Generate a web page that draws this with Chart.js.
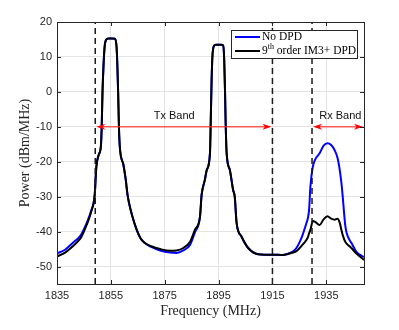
<!DOCTYPE html>
<html><head><meta charset="utf-8">
<script src="https://cdn.jsdelivr.net/npm/chart.js@4"></script>
<style>html,body{margin:0;padding:0;background:#fff;}#wrap{width:399px;height:330px;}</style>
</head><body><div id="wrap"><canvas id="c" width="399" height="330"></canvas></div>
<script>
const freq = [1835,1838,1841,1843,1844,1846,1847.7,1849,1849.6,1850.5,1851.3,1851.6,1851.9,1852.3,1852.7,1853.3,1854,1855.5,1856.5,1857.1,1857.4,1857.7,1858,1858.3,1859.7,1860.5,1861.2,1861.8,1863,1864.6,1866,1867.5,1870,1873.3,1877,1879.4,1881.9,1884.4,1886.2,1888.1,1888.7,1889.9,1890.6,1891.8,1892.1,1892.4,1892.7,1893.3,1894,1896,1896.7,1897.1,1897.4,1897.6,1898,1899.2,1900.4,1901,1901.7,1903.5,1906,1909.7,1912,1915,1918.9,1920.8,1922.6,1923.9,1925.1,1925.9,1927.6,1928.2,1928.6,1929.1,1930,1931,1932.5,1934,1935.4,1936.8,1938.1,1939.2,1940,1940.6,1941.1,1942.1,1943.6,1944.3,1946.1,1949];
const noDpd = [-46.2,-45.2,-43.1,-41.8,-40.8,-37.6,-34.0,-29.5,-21.5,-18,-15.5,-10,0,8,13,15.0,15.3,15.3,15.2,13,8,0,-10,-15.5,-21,-25,-29.5,-32,-35.7,-39.5,-41.9,-43.2,-44.4,-45.4,-46.0,-46.1,-45.4,-43.8,-40.2,-35.7,-29.5,-25.2,-22.4,-17.6,-8,3,10,13.2,13.5,13.5,13.3,9,0,-8,-17.6,-22.4,-28.1,-30,-37.6,-41.4,-44.7,-46.5,-46.6,-46.6,-46.7,-46.3,-45.7,-44.7,-43,-41.6,-37.6,-36,-33.8,-27.1,-21.4,-19.2,-17.6,-15.4,-14.7,-15.2,-16.7,-19,-22.4,-26,-30,-38.6,-42.4,-43.2,-45.7,-47.3];
const withDpd = [-47.1,-46.0,-44.1,-42.6,-41.6,-38.1,-34.3,-29.5,-21.5,-18,-15.5,-10,0,8,13,15.0,15.3,15.3,15.2,13,8,0,-10,-15.5,-21,-25,-29.5,-32,-35.7,-39.5,-41.9,-43.2,-44.2,-45.0,-45.5,-45.4,-44.7,-42.9,-39.5,-35.7,-29.5,-25.2,-22.4,-17.6,-8,3,10,13.2,13.5,13.5,13.3,9,0,-8,-17.6,-22.4,-28.1,-30,-37.6,-41.4,-44.7,-46.5,-46.6,-46.6,-46.7,-46.4,-46.0,-45.6,-44.7,-44.0,-42.4,-41.5,-40.5,-39.5,-37.0,-37.3,-38.1,-36.5,-35.6,-36.3,-36.6,-36.3,-37.5,-39.5,-41,-43.0,-44.2,-44.7,-46.2,-48.1];
const xTicks = [1835,1855,1875,1895,1915,1935];
const yTicks = [20,10,0,-10,-20,-30,-40,-50];
const bandEdges = [1849.2,1915,1929.7];
const seriesNames = ['No DPD','9th order IM3+ DPD'];

const AX = '#262626';
const serif = '"Liberation Serif", "Times New Roman", serif';
const sans = '"Liberation Sans", Arial, sans-serif';

const pts = (ys) => freq.map((f,i)=>({x:f,y:ys[i]}));
const vline = (f) => [{x:f,y:-55},{x:f,y:20}];

const decor = {
  id:'decor',
  afterDatasetsDraw(chart){
    const {ctx, scales:{x,y}} = chart;
    ctx.save();
    const arrow = (f1,f2,v) => {
      const x1=x.getPixelForValue(f1), x2=x.getPixelForValue(f2), py=y.getPixelForValue(v);
      ctx.strokeStyle='rgba(255,40,40,0.75)'; ctx.lineWidth=1.5;
      ctx.beginPath(); ctx.moveTo(x1+4,py); ctx.lineTo(x2-4,py); ctx.stroke();
      ctx.fillStyle='#ff0000';
      const head=(tx,dir)=>{ctx.beginPath();ctx.moveTo(tx,py);ctx.lineTo(tx+dir*9,py-3);ctx.lineTo(tx+dir*6.5,py);ctx.lineTo(tx+dir*9,py+3);ctx.closePath();ctx.fill();};
      head(x1+1,1); head(x2-1,-1);
    };
    arrow(bandEdges[0],bandEdges[1],-10);
    arrow(bandEdges[2],x.max,-10);
    ctx.fillStyle='#111'; ctx.font='11px '+sans; ctx.textAlign='center'; ctx.textBaseline='middle';
    ctx.fillText('Tx Band', x.getPixelForValue(1878.5), y.getPixelForValue(-6.9));
    ctx.fillText('Rx Band', x.getPixelForValue(1940.2), y.getPixelForValue(-6.9));
    ctx.restore();
  },
  afterDraw(chart){
    const {ctx, chartArea:a, scales:{x,y}} = chart;
    ctx.save();
    ctx.strokeStyle=AX; ctx.lineWidth=1;
    ctx.strokeRect(Math.round(a.left)+0.5, Math.round(a.top)+0.5, Math.round(a.right-a.left), Math.round(a.bottom-a.top));
    ctx.beginPath();
    xTicks.forEach(t=>{const px=Math.round(x.getPixelForValue(t))+0.5; ctx.moveTo(px,a.bottom);ctx.lineTo(px,a.bottom-4);ctx.moveTo(px,a.top);ctx.lineTo(px,a.top+4);});
    yTicks.forEach(t=>{const py=Math.round(y.getPixelForValue(t))+0.5; ctx.moveTo(a.left,py);ctx.lineTo(a.left+4,py);ctx.moveTo(a.right,py);ctx.lineTo(a.right-4,py);});
    ctx.stroke();
    const lx=231.5, ly=30.5, lw=126, lh=28;
    ctx.fillStyle='#fff'; ctx.fillRect(lx,ly,lw,lh);
    ctx.strokeStyle=AX; ctx.strokeRect(lx,ly,lw,lh);
    ctx.lineWidth=2;
    ctx.strokeStyle='#0000ff'; ctx.beginPath(); ctx.moveTo(235,37); ctx.lineTo(260,37); ctx.stroke();
    ctx.strokeStyle='#000'; ctx.beginPath(); ctx.moveTo(235,51); ctx.lineTo(260,51); ctx.stroke();
    ctx.fillStyle='#000'; ctx.textAlign='left'; ctx.textBaseline='middle';
    ctx.font='11.5px '+serif;
    ctx.fillText(seriesNames[0], 262, 37);
    ctx.fillText('9', 262, 51);
    let w = ctx.measureText('9').width;
    ctx.font='8px '+serif;
    ctx.fillText('th', 262+w, 47);
    let w2 = ctx.measureText('th').width;
    ctx.font='11.5px '+serif;
    ctx.fillText(' order IM3+ DPD', 262+w+w2, 51);
    ctx.restore();
  }
};

new Chart(document.getElementById('c'), {
  type:'line',
  data:{datasets:[
    {label:seriesNames[1], data:pts(withDpd), borderColor:'#000000', borderWidth:2, pointRadius:0, cubicInterpolationMode:'monotone', order:1},
    {label:seriesNames[0], data:pts(noDpd), borderColor:'#0000ff', borderWidth:2, pointRadius:0, cubicInterpolationMode:'monotone', order:2},
    ...bandEdges.map(f=>({label:'edge', data:vline(f), borderColor:'#1a1a1a', borderWidth:1.5, borderDash:[6,4], pointRadius:0, order:0}))
  ]},
  options:{
    responsive:false, animation:false, devicePixelRatio:1,
    layout:{padding:{left:0,right:35,top:22,bottom:0}},
    plugins:{legend:{display:false}, tooltip:{enabled:false}},
    scales:{
      x:{type:'linear', min:1835, max:1949,
        afterBuildTicks:s=>{s.ticks=xTicks.map(v=>({value:v}));},
        afterFit:s=>{s.height=46;},
        grid:{color:'#e3e3e3', drawTicks:false, lineWidth:1}, border:{display:false},
        ticks:{padding:5, color:AX, font:{family:sans,size:11}, maxRotation:0, autoSkip:false, callback:v=>String(v)},
        title:{display:true, text:'Frequency (MHz)', color:AX, font:{family:serif,size:14}, padding:{top:2,bottom:10}}
      },
      y:{type:'linear', min:-55, max:20,
        afterBuildTicks:s=>{s.ticks=yTicks.map(v=>({value:v}));},
        afterFit:s=>{s.width=57;},
        grid:{color:'#e3e3e3', drawTicks:false, lineWidth:1}, border:{display:false},
        ticks:{padding:5, color:AX, font:{family:sans,size:11}, callback:v=>String(v)},
        title:{display:true, text:'Power (dBm/MHz)', color:AX, font:{family:serif,size:14}, padding:{top:17,bottom:4}}
      }
    }
  },
  plugins:[decor]
});
</script>
</body></html>
